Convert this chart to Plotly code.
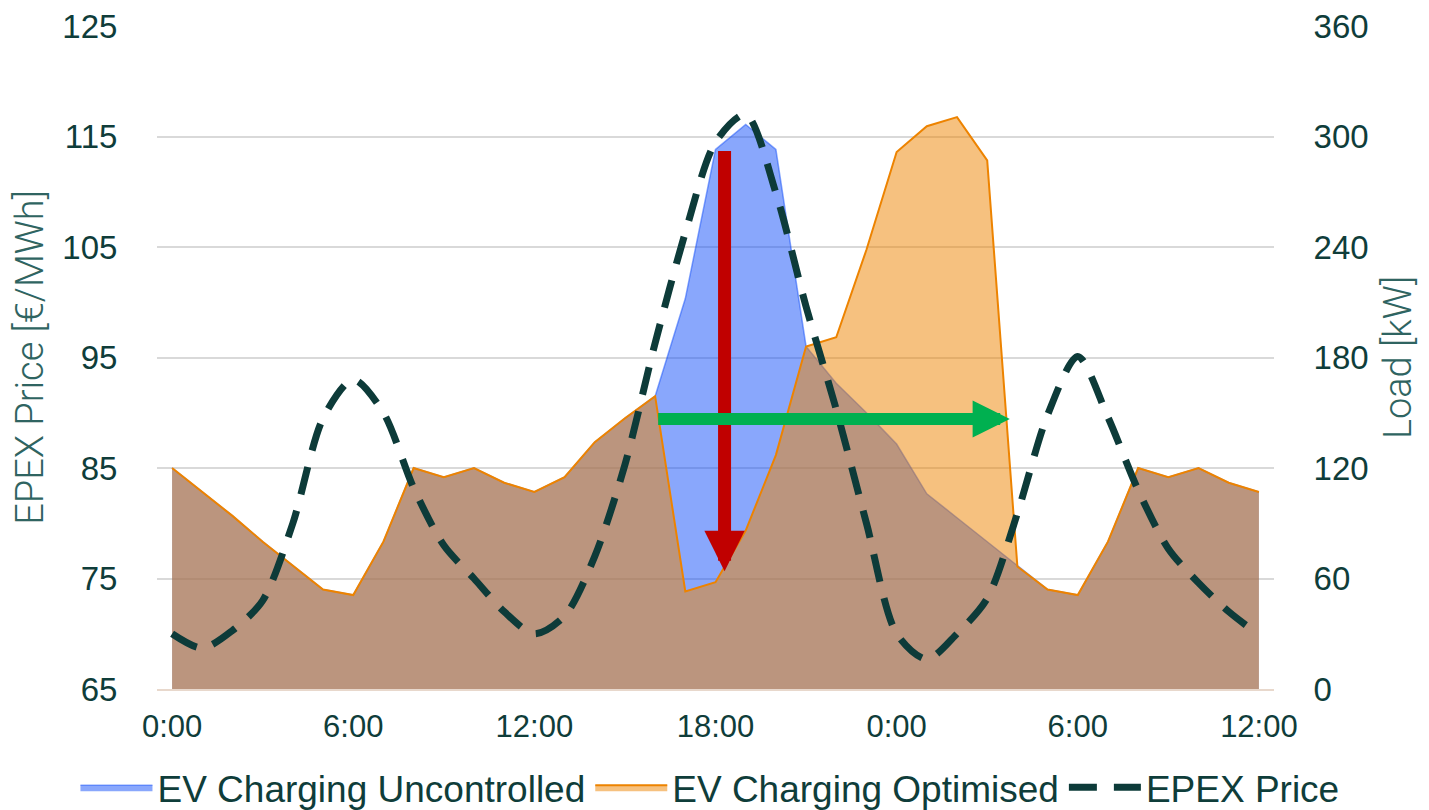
import plotly.graph_objects as go

# hourly data, 0:00 day 1 to 12:00 day 2
hours = list(range(37))
tick_hours = [0, 6, 12, 18, 24, 30, 36]
tick_text = ["0:00", "6:00", "12:00", "18:00", "0:00", "6:00", "12:00"]

load_uncontrolled = [120, 107, 94, 80, 67, 54, 51, 80, 120, 115, 120, 112, 107, 115, 134, 147,
                     159, 212, 293, 306.5, 293, 186, 166, 150, 133, 106, 93, 80, 66.5,
                     54, 51, 80, 120, 115, 120, 112, 107]
load_optimised = [120, 107, 94, 80, 67, 54, 51, 80, 120, 115, 120, 112, 107, 115, 134, 147,
                  159, 53, 58, 86, 127, 186, 191, 238.5, 291.6, 305.6, 310.5, 287, 66.5,
                  54, 51, 80, 120, 115, 120, 112, 107]
epex_price = [70, 68.7, 70.3, 73, 80, 89.5, 93, 90, 83.2, 78, 75, 72, 70, 71.6, 77, 85.3,
              96.3, 106.3, 114.5, 117, 109.9, 99.6, 90.3, 80, 70, 67.7, 70, 73.2, 80.9,
              89.8, 95.1, 89.6, 83, 77.7, 74.6, 72, 69.9]

dark = "#0f3d3a"
title_col = "#2f6461"

fig = go.Figure()

fig.add_trace(go.Scatter(
    x=hours, y=load_uncontrolled, name="EV Charging Uncontrolled",
    mode="lines", fill="tozeroy", yaxis="y",
    line=dict(color="rgba(20,80,250,0.5)", width=1.5),
    fillcolor="rgba(20,80,250,0.5)"))

fig.add_trace(go.Scatter(
    x=hours, y=load_optimised, name="EV Charging Optimised",
    mode="lines", fill="tozeroy", yaxis="y",
    line=dict(color="#ed8300", width=2),
    fillcolor="rgba(237,131,0,0.5)"))

fig.add_trace(go.Scatter(
    x=hours, y=epex_price, name="EPEX Price",
    mode="lines", yaxis="y2",
    line=dict(color="#0d3b39", width=7, dash="28px,17px", shape="spline", smoothing=0.8)))

# shift arrows
fig.add_annotation(x=18.3, y=64, ax=18.3, ay=293, xref="x", yref="y", axref="x", ayref="y",
                   showarrow=True, arrowhead=2, arrowsize=0.62, arrowwidth=13,
                   arrowcolor="#c00000", text="")
fig.add_annotation(x=27.75, y=146.6, ax=16.05, ay=146.6, xref="x", yref="y", axref="x", ayref="y",
                   showarrow=True, arrowhead=2, arrowsize=0.62, arrowwidth=12,
                   arrowcolor="#00b050", text="")

tick_font = dict(family="Liberation Sans, Arial, sans-serif", size=33, color=dark)
title_font = dict(family="Noto Sans Condensed, Roboto, sans-serif",
                  size=38, color=title_col, weight=300)

fig.update_layout(
    width=1429, height=810,
    paper_bgcolor="white", plot_bgcolor="white",
    margin=dict(l=149, r=163, t=18, b=129, autoexpand=False),
    showlegend=True,
    legend=dict(orientation="h", x=-0.073, xanchor="left", y=-0.149, yanchor="middle",
                font=dict(family="Liberation Sans, Arial, sans-serif", size=37, color=dark),
                itemwidth=72, tracegroupgap=0),
    xaxis=dict(range=[-0.5, 36.5], tickvals=tick_hours, ticktext=tick_text,
               showgrid=False, zeroline=False, showline=True, linecolor="#e8d8cc", linewidth=2,
               tickfont=dict(family="Liberation Sans, Arial, sans-serif", size=31, color=dark),
               ticks="outside", ticklen=9, tickcolor="white"),
    yaxis=dict(range=[0, 360], dtick=60, side="right",
               showgrid=True, gridcolor="#d9d9d9", gridwidth=2, zeroline=False,
               tickfont=tick_font, ticks="outside", ticklen=32, tickcolor="white",
               ticklabeloverflow="allow",
               title=dict(text="Load [kW]", font=title_font, standoff=16)),
    yaxis2=dict(range=[65, 125], tick0=65, dtick=10, side="left", overlaying="y",
                showgrid=False, zeroline=False,
                tickfont=tick_font, ticks="outside", ticklen=32, tickcolor="white",
                ticklabeloverflow="allow",
                title=dict(text="EPEX Price [€/MWh]", font=title_font, standoff=14)),
)

fig.write_html("out.html")
